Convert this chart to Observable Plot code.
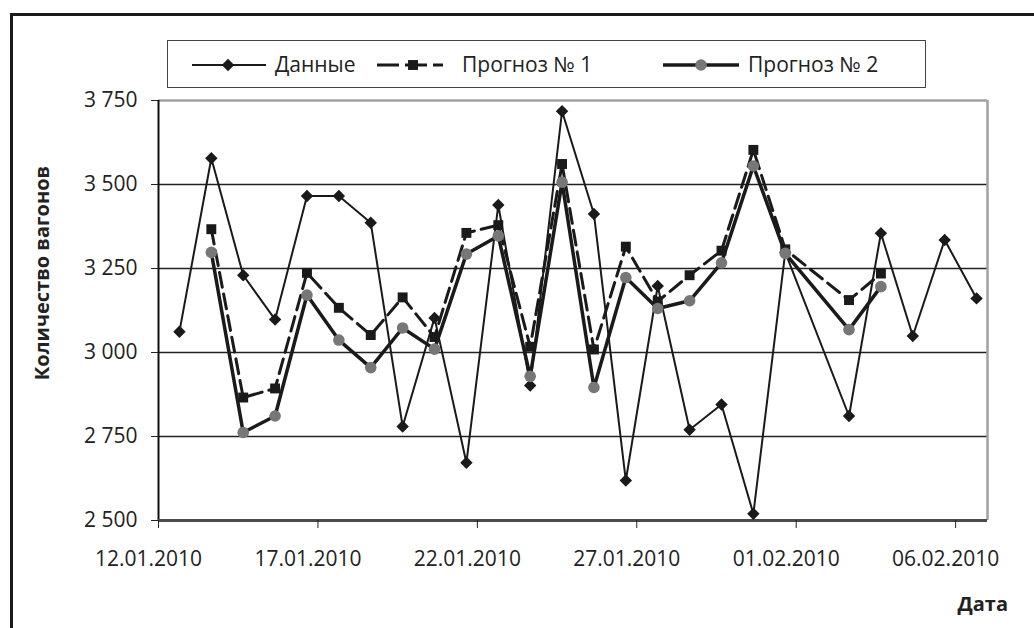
<!DOCTYPE html>
<html>
<head>
<meta charset="utf-8">
<script src="https://cdn.jsdelivr.net/npm/d3@7"></script>
<script src="https://cdn.jsdelivr.net/npm/@observablehq/plot@0.6"></script>
<style>
  html, body { margin: 0; padding: 0; background: #fff; width: 1034px; height: 628px; overflow: hidden; }
  #frame { position: absolute; left: 10px; top: 13px; width: 1100px; height: 700px; border-left: 3px solid #1a1a1a; border-top: 3px solid #1a1a1a; }
  #chart { position: absolute; left: 0; top: 0; }
  #overlay { position: absolute; left: 0; top: 0; pointer-events: none; }
  #legend { position: absolute; left: 167px; top: 40px; width: 759px; height: 48px; box-sizing: border-box; border: 1.5px solid #444; background: #fff; }
</style>
</head>
<body>
<div id="frame"></div>
<div id="chart"></div>
<div id="legend"></div>
<svg id="overlay" width="1034" height="628"></svg>
<script>
// ---- data ----
const dates = [
  "2010-01-12","2010-01-13","2010-01-14","2010-01-15","2010-01-16","2010-01-17","2010-01-18",
  "2010-01-19","2010-01-20","2010-01-21","2010-01-22","2010-01-23","2010-01-24","2010-01-25",
  "2010-01-26","2010-01-27","2010-01-28","2010-01-29","2010-01-30","2010-01-31",
  "2010-02-02","2010-02-03","2010-02-04","2010-02-05","2010-02-06"
];
const actual    = [3062, 3578, 3230, 3098, 3466, 3466, 3386, 2780, 3103, 2672, 3439, 2902, 3718, 3412, 2619, 3198, 2770, 2845, 2520, 3298, 2811, 3355, 3049, 3335, 3161];
const forecast1 = [null, 3367, 2866, 2893, 3237, 3133, 3052, 3164, 3046, 3356, 3379, 3017, 3561, 3009, 3315, 3152, 3230, 3303, 3603, 3307, 3156, 3235, null, null, null];
const forecast2 = [null, 3298, 2762, 2811, 3171, 3037, 2955, 3073, 3010, 3293, 3347, 2929, 3507, 2896, 3223, 3131, 3154, 3267, 3555, 3295, 3068, 3196, null, null, null];

const seriesNames = ["Данные", "Прогноз № 1", "Прогноз № 2"];
const xDomain = ["2010-01-12", "2010-02-07"];
const xTicks = ["2010-01-12", "2010-01-17", "2010-01-22", "2010-01-27", "2010-02-01", "2010-02-06"];
const xTickLabels = ["12.01.2010", "17.01.2010", "22.01.2010", "27.01.2010", "01.02.2010", "06.02.2010"];
const yTicks = [2500, 2750, 3000, 3250, 3500, 3750];
const yTickLabels = ["2 500", "2 750", "3 000", "3 250", "3 500", "3 750"];
const yTitle = "Количество вагонов";
const xTitle = "Дата";

// ---- build ----
const parse = s => new Date(s + "T00:00:00Z");
const rows = dates.map((d, i) => ({
  date: d3.utcHour.offset(parse(d), 12),
  actual: actual[i], f1: forecast1[i], f2: forecast2[i]
}));
const rows1 = rows.filter(r => r.f1 != null);
const rows2 = rows.filter(r => r.f2 != null);
const dom = xDomain.map(parse);
const tickDates = xTicks.map(parse);

const font = "'Open Sans', 'Noto Sans', sans-serif";
const ink = "#1a1a1a";

const chart = Plot.plot({
  width: 1034,
  height: 628,
  marginLeft: 158,
  marginRight: 47,
  marginTop: 100,
  marginBottom: 108,
  style: { fontFamily: font, fontSize: "21px", color: "#222", background: "transparent", overflow: "visible" },
  x: { type: "utc", domain: dom },
  y: { domain: [yTicks[0], yTicks[yTicks.length - 1]] },
  marks: [
    Plot.ruleY(yTicks.slice(1, -1), { stroke: "#222", strokeWidth: 1.3 }),
    Plot.ruleY([yTicks[yTicks.length - 1]], { stroke: "#a0a0a0", strokeWidth: 2.5 }),
    Plot.ruleX([dom[1]], { stroke: "#a0a0a0", strokeWidth: 2.5 }),
    Plot.ruleX([dom[0]], { stroke: "#111", strokeWidth: 2 }),
    Plot.ruleY([yTicks[0]], { stroke: "#4a4a4a", strokeWidth: 2.8 }),
    Plot.axisY({ ticks: yTicks, tickSize: 7, tickPadding: 14, tickFormat: (d, i) => yTickLabels[yTicks.indexOf(d)], label: null, stroke: "#222", fill: "#222" }),
    Plot.axisX({ ticks: tickDates, tickSize: 8, tickFormat: () => "", label: null, stroke: "#222" }),
    Plot.axisX({ ticks: tickDates, tickSize: 0, tickPadding: 31, tickFormat: d => xTickLabels[tickDates.findIndex(t => +t === +d)], label: null, dx: -10, fill: "#222" }),
    Plot.line(rows, { x: "date", y: "actual", stroke: ink, strokeWidth: 2, dx: 5 }),
    Plot.line(rows1, { x: "date", y: "f1", stroke: ink, strokeWidth: 3, strokeDasharray: "15,7", dx: 5 }),
    Plot.line(rows2, { x: "date", y: "f2", stroke: ink, strokeWidth: 3.5, dx: 5 }),
    Plot.dot(rows, { x: "date", y: "actual", symbol: "diamond2", r: 5.6, fill: ink, stroke: "none", dx: 5 }),
    Plot.dot(rows1, { x: "date", y: "f1", symbol: "square", r: 5.6, fill: ink, stroke: "none", dx: 5 }),
    Plot.dot(rows2, { x: "date", y: "f2", symbol: "circle", r: 5.8, fill: "#777", stroke: "none", dx: 5 })
  ]
});
document.getElementById("chart").appendChild(chart);

// ---- legend ----
const NS = "http://www.w3.org/2000/svg";
const lg = d3.select("#legend").append("svg").attr("width", 756).attr("height", 45)
  .style("position", "absolute").style("left", "0px").style("top", "0px");
const ly = 24;
// Данные
lg.append("line").attr("x1", 24).attr("x2", 98).attr("y1", ly).attr("y2", ly).attr("stroke", ink).attr("stroke-width", 2);
lg.append("path").attr("d", d3.symbol(d3.symbolDiamond2, Math.PI * 5.6 * 5.6)()).attr("transform", `translate(60,${ly})`).attr("fill", ink);
lg.append("text").attr("x", 107).attr("y", ly).attr("dy", "0.35em").text(seriesNames[0]);
// Прогноз № 1
lg.append("line").attr("x1", 209).attr("x2", 275).attr("y1", ly).attr("y2", ly).attr("stroke", ink).attr("stroke-width", 3).attr("stroke-dasharray", "22,6");
lg.append("path").attr("d", d3.symbol(d3.symbolSquare, Math.PI * 5.6 * 5.6)()).attr("transform", `translate(245,${ly})`).attr("fill", ink);
lg.append("text").attr("x", 294).attr("y", ly).attr("dy", "0.35em").text(seriesNames[1]);
// Прогноз № 2
lg.append("line").attr("x1", 495).attr("x2", 571).attr("y1", ly).attr("y2", ly).attr("stroke", ink).attr("stroke-width", 3.5);
lg.append("circle").attr("cx", 533).attr("cy", ly).attr("r", 5.8).attr("fill", "#777");
lg.append("text").attr("x", 580).attr("y", ly).attr("dy", "0.35em").text(seriesNames[2]);
lg.selectAll("text").attr("font-family", font).attr("font-size", 21).attr("fill", "#222");

// ---- axis titles ----
const ov = d3.select("#overlay");
ov.append("text").attr("transform", "translate(42,273) rotate(-90)").attr("text-anchor", "middle").attr("dy", "0.35em")
  .attr("font-family", font).attr("font-weight", 700).attr("font-size", 20).attr("fill", "#222").text(yTitle);
ov.append("text").attr("x", 1008).attr("y", 611).attr("text-anchor", "end")
  .attr("font-family", font).attr("font-weight", 700).attr("font-size", 20).attr("fill", "#222").text(xTitle);
</script>
</body>
</html>
